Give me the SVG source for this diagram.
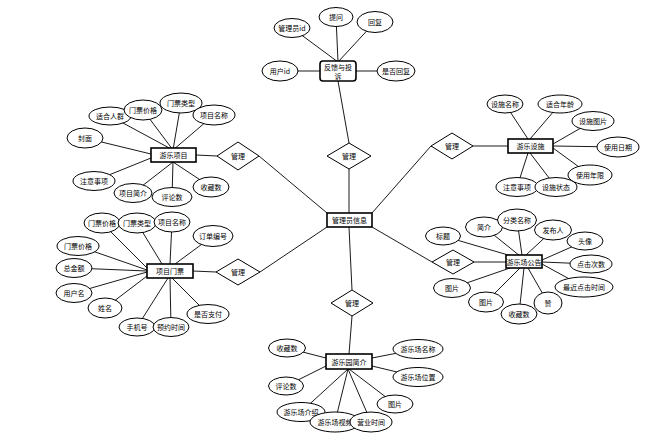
<svg xmlns="http://www.w3.org/2000/svg" width="654" height="442" viewBox="0 0 654 442">
<style>
.l{stroke:#000;stroke-width:0.9;fill:none}
.a{fill:#fff;stroke:#000;stroke-width:1}
.e{fill:#fff;stroke:#000;stroke-width:1.6}
.d{fill:#fff;stroke:#000;stroke-width:1}
text{font-family:"Noto Sans CJK SC","Noto Sans",sans-serif;font-size:7px;text-anchor:middle;dominant-baseline:central;fill:#000}
</style>
<rect width="654" height="442" fill="#fff"/>
<g id="connectors">
<!-- feedback -->
<line class="l" x1="292" y1="28" x2="338" y2="62"/>
<line class="l" x1="336" y1="17" x2="338" y2="62"/>
<line class="l" x1="375" y1="22" x2="338" y2="62"/>
<line class="l" x1="280" y1="71" x2="320" y2="71"/>
<line class="l" x1="396" y1="71" x2="356" y2="71"/>
<line class="l" x1="338" y1="81" x2="349" y2="143"/>
<line class="l" x1="349" y1="169" x2="349" y2="213"/>
<!-- left upper -->
<line class="l" x1="259" y1="156" x2="327" y2="213"/>
<line class="l" x1="196" y1="155" x2="217" y2="156"/>
<line class="l" x1="110" y1="116" x2="173" y2="150"/>
<line class="l" x1="143" y1="110" x2="173" y2="150"/>
<line class="l" x1="181" y1="103" x2="173" y2="150"/>
<line class="l" x1="214" y1="115" x2="173" y2="150"/>
<line class="l" x1="85" y1="138" x2="151" y2="154"/>
<line class="l" x1="94" y1="181" x2="151" y2="158"/>
<line class="l" x1="133" y1="193" x2="173" y2="162"/>
<line class="l" x1="172" y1="197" x2="173" y2="162"/>
<line class="l" x1="211" y1="187" x2="173" y2="162"/>
<!-- left lower -->
<line class="l" x1="260" y1="272" x2="327" y2="227"/>
<line class="l" x1="193" y1="271" x2="216" y2="272"/>
<line class="l" x1="102" y1="223" x2="147" y2="268"/>
<line class="l" x1="137" y1="223" x2="162" y2="264"/>
<line class="l" x1="172" y1="222" x2="170" y2="264"/>
<line class="l" x1="213" y1="236" x2="175" y2="264"/>
<line class="l" x1="78" y1="246" x2="147" y2="270"/>
<line class="l" x1="74" y1="268" x2="147" y2="271"/>
<line class="l" x1="74" y1="293" x2="147" y2="272"/>
<line class="l" x1="105" y1="308" x2="147" y2="276"/>
<line class="l" x1="137" y1="327" x2="168" y2="278"/>
<line class="l" x1="171" y1="327" x2="170" y2="278"/>
<line class="l" x1="208" y1="314" x2="172" y2="278"/>
<!-- right upper -->
<line class="l" x1="431" y1="146" x2="372" y2="213"/>
<line class="l" x1="473" y1="146" x2="508" y2="146"/>
<line class="l" x1="505" y1="104" x2="528" y2="139"/>
<line class="l" x1="560" y1="104" x2="530" y2="139"/>
<line class="l" x1="593" y1="121" x2="553" y2="144"/>
<line class="l" x1="618" y1="147" x2="553" y2="146"/>
<line class="l" x1="590" y1="175" x2="553" y2="148"/>
<line class="l" x1="517" y1="187" x2="528" y2="153"/>
<line class="l" x1="556" y1="187" x2="530" y2="153"/>
<!-- right lower -->
<line class="l" x1="432" y1="262" x2="372" y2="227"/>
<line class="l" x1="474" y1="262" x2="506" y2="262"/>
<line class="l" x1="443" y1="236" x2="515" y2="257"/>
<line class="l" x1="484" y1="227" x2="520" y2="256"/>
<line class="l" x1="517" y1="220" x2="522" y2="255"/>
<line class="l" x1="553" y1="230" x2="526" y2="255"/>
<line class="l" x1="585" y1="241" x2="542" y2="260"/>
<line class="l" x1="591" y1="264" x2="542" y2="262"/>
<line class="l" x1="584" y1="287" x2="542" y2="264"/>
<line class="l" x1="548" y1="303" x2="528" y2="268"/>
<line class="l" x1="519" y1="314" x2="524" y2="268"/>
<line class="l" x1="486" y1="302" x2="520" y2="268"/>
<line class="l" x1="452" y1="288" x2="510" y2="268"/>
<!-- bottom -->
<line class="l" x1="349" y1="227" x2="352" y2="290"/>
<line class="l" x1="352" y1="316" x2="349" y2="354"/>
<line class="l" x1="287" y1="348" x2="326" y2="358"/>
<line class="l" x1="286" y1="386" x2="326" y2="366"/>
<line class="l" x1="418" y1="349" x2="372" y2="358"/>
<line class="l" x1="418" y1="377" x2="372" y2="366"/>
<line class="l" x1="395" y1="404" x2="349" y2="369"/>
<line class="l" x1="301" y1="412" x2="348" y2="369"/>
<line class="l" x1="335" y1="422" x2="348" y2="369"/>
<line class="l" x1="371" y1="422" x2="348" y2="369"/>
</g>

<g id="feedback">
<rect class="e" x="320" y="61" width="36" height="20" rx="3"/>
<text x="338" y="67">反馈与投</text><text x="338" y="76">诉</text>
</g>
<g id="fb-attrs">
<ellipse class="a" cx="292" cy="28" rx="18" ry="9.5"/><text x="292" y="28">管理员id</text>
<ellipse class="a" cx="336" cy="17" rx="17" ry="9.5"/><text x="336" y="17">提问</text>
<ellipse class="a" cx="375" cy="22" rx="18" ry="10.5"/><text x="375" y="22">回复</text>
<ellipse class="a" cx="280" cy="71" rx="18" ry="10"/><text x="280" y="71">用户id</text>
<ellipse class="a" cx="396" cy="71" rx="19" ry="10"/><text x="396" y="71">是否回复</text>
</g>
<g id="admin">
<rect class="e" x="327" y="213" width="45" height="14"/>
<text x="349.5" y="220">管理员信息</text>
</g>
<g id="rel-top"><polygon class="d" points="327,156 349,143 371,156 349,169"/><text x="349" y="156">管理</text></g>
<g id="rel-lu"><polygon class="d" points="217,156 238,142 259,156 238,170"/><text x="238" y="156">管理</text></g>
<g id="rel-ll"><polygon class="d" points="216,272 238,259 260,272 238,285"/><text x="238" y="272">管理</text></g>
<g id="rel-ru"><polygon class="d" points="431,146 452,133 473,146 452,159"/><text x="452" y="146">管理</text></g>
<g id="rel-rl"><polygon class="d" points="432,262 453,250 474,262 453,274"/><text x="453" y="262">管理</text></g>
<g id="rel-b"><polygon class="d" points="331,303 352,290 373,303 352,316"/><text x="352" y="303">管理</text></g>

<g id="project">
<rect class="e" x="151" y="148" width="45" height="14"/><text x="173.5" y="155">游乐项目</text>
</g>
<g id="project-attrs">
<ellipse class="a" cx="110" cy="116" rx="21" ry="9"/><text x="110" y="116">适合人群</text>
<ellipse class="a" cx="143" cy="110" rx="19" ry="10"/><text x="143" y="110">门票价格</text>
<ellipse class="a" cx="181" cy="103" rx="21" ry="10"/><text x="181" y="103">门票类型</text>
<ellipse class="a" cx="214" cy="115" rx="21" ry="10"/><text x="214" y="115">项目名称</text>
<ellipse class="a" cx="85" cy="138" rx="18" ry="10"/><text x="85" y="138">封面</text>
<ellipse class="a" cx="94" cy="181" rx="21" ry="9.5"/><text x="94" y="181">注意事项</text>
<ellipse class="a" cx="133" cy="193" rx="19" ry="9.5"/><text x="133" y="193">项目简介</text>
<ellipse class="a" cx="172" cy="197" rx="20" ry="9.5"/><text x="172" y="197">评论数</text>
<ellipse class="a" cx="211" cy="187" rx="18" ry="10"/><text x="211" y="187">收藏数</text>
</g>

<g id="ticket">
<rect class="e" x="147" y="264" width="46" height="14"/><text x="170" y="271">项目门票</text>
</g>
<g id="ticket-attrs">
<ellipse class="a" cx="102" cy="223" rx="18" ry="10"/><text x="102" y="223">门票价格</text>
<ellipse class="a" cx="137" cy="223" rx="19" ry="10"/><text x="137" y="223">门票类型</text>
<ellipse class="a" cx="172" cy="222" rx="18" ry="10"/><text x="172" y="222">项目名称</text>
<ellipse class="a" cx="213" cy="236" rx="20" ry="10.5"/><text x="213" y="236">订单编号</text>
<ellipse class="a" cx="78" cy="246" rx="21" ry="9.5"/><text x="78" y="246">门票价格</text>
<ellipse class="a" cx="74" cy="268" rx="18" ry="9.5"/><text x="74" y="268">总金额</text>
<ellipse class="a" cx="74" cy="293" rx="18" ry="9.5"/><text x="74" y="293">用户名</text>
<ellipse class="a" cx="105" cy="308" rx="17" ry="10"/><text x="105" y="308">姓名</text>
<ellipse class="a" cx="137" cy="327" rx="18" ry="9"/><text x="137" y="327">手机号</text>
<ellipse class="a" cx="171" cy="327" rx="18" ry="9.5"/><text x="171" y="327">预约时间</text>
<ellipse class="a" cx="208" cy="314" rx="21" ry="9.5"/><text x="208" y="314">是否支付</text>
</g>

<g id="facility">
<rect class="e" x="508" y="139" width="45" height="14"/><text x="530.5" y="146">游乐设施</text>
</g>
<g id="facility-attrs">
<ellipse class="a" cx="505" cy="104" rx="18" ry="9"/><text x="505" y="104">设施名称</text>
<ellipse class="a" cx="560" cy="104" rx="22" ry="9"/><text x="560" y="104">适合年龄</text>
<ellipse class="a" cx="593" cy="121" rx="21" ry="9.5"/><text x="593" y="121">设施图片</text>
<ellipse class="a" cx="618" cy="147" rx="21" ry="10"/><text x="618" y="147">使用日期</text>
<ellipse class="a" cx="590" cy="175" rx="22" ry="10"/><text x="590" y="175">使用年限</text>
<ellipse class="a" cx="517" cy="187" rx="21" ry="9.5"/><text x="517" y="187">注意事项</text>
<ellipse class="a" cx="556" cy="187" rx="21" ry="9.5"/><text x="556" y="187">设施状态</text>
</g>

<g id="notice">
<rect class="e" x="506" y="255" width="36" height="13"/><text x="524" y="261.5">游乐场公告</text>
</g>
<g id="notice-attrs">
<ellipse class="a" cx="443" cy="236" rx="17.5" ry="9"/><text x="443" y="236">标题</text>
<ellipse class="a" cx="484" cy="227" rx="18.5" ry="10"/><text x="484" y="227">简介</text>
<ellipse class="a" cx="517" cy="220" rx="19.5" ry="11"/><text x="517" y="220">分类名称</text>
<ellipse class="a" cx="553" cy="230" rx="18.5" ry="10"/><text x="553" y="230">发布人</text>
<ellipse class="a" cx="585" cy="241" rx="18" ry="9"/><text x="585" y="241">头像</text>
<ellipse class="a" cx="591" cy="264" rx="21" ry="9"/><text x="591" y="264">点击次数</text>
<ellipse class="a" cx="584" cy="287" rx="29" ry="10"/><text x="584" y="287">最近点击时间</text>
<ellipse class="a" cx="548" cy="303" rx="14" ry="11"/><text x="548" y="303">赞</text>
<ellipse class="a" cx="519" cy="314" rx="18" ry="10"/><text x="519" y="314">收藏数</text>
<ellipse class="a" cx="486" cy="302" rx="17.5" ry="10"/><text x="486" y="302">图片</text>
<ellipse class="a" cx="452" cy="288" rx="18.5" ry="9.5"/><text x="452" y="288">图片</text>
</g>

<g id="park">
<rect class="e" x="326" y="354" width="46" height="15"/><text x="349" y="361.5">游乐园简介</text>
</g>
<g id="park-attrs">
<ellipse class="a" cx="287" cy="348" rx="18.5" ry="9"/><text x="287" y="348">收藏数</text>
<ellipse class="a" cx="286" cy="386" rx="17.5" ry="9"/><text x="286" y="386">评论数</text>
<ellipse class="a" cx="418" cy="349" rx="25" ry="9.5"/><text x="418" y="349">游乐场名称</text>
<ellipse class="a" cx="418" cy="377" rx="25" ry="9.5"/><text x="418" y="377">游乐场位置</text>
<ellipse class="a" cx="395" cy="404" rx="18" ry="9"/><text x="395" y="404">图片</text>
<ellipse class="a" cx="301" cy="412" rx="24" ry="9.5"/><text x="301" y="412">游乐场介绍</text>
<ellipse class="a" cx="335" cy="422" rx="25" ry="10"/><text x="335" y="422">游乐场视频</text>
<ellipse class="a" cx="371" cy="422" rx="21" ry="10"/><text x="371" y="422">营业时间</text>
</g>
</svg>
